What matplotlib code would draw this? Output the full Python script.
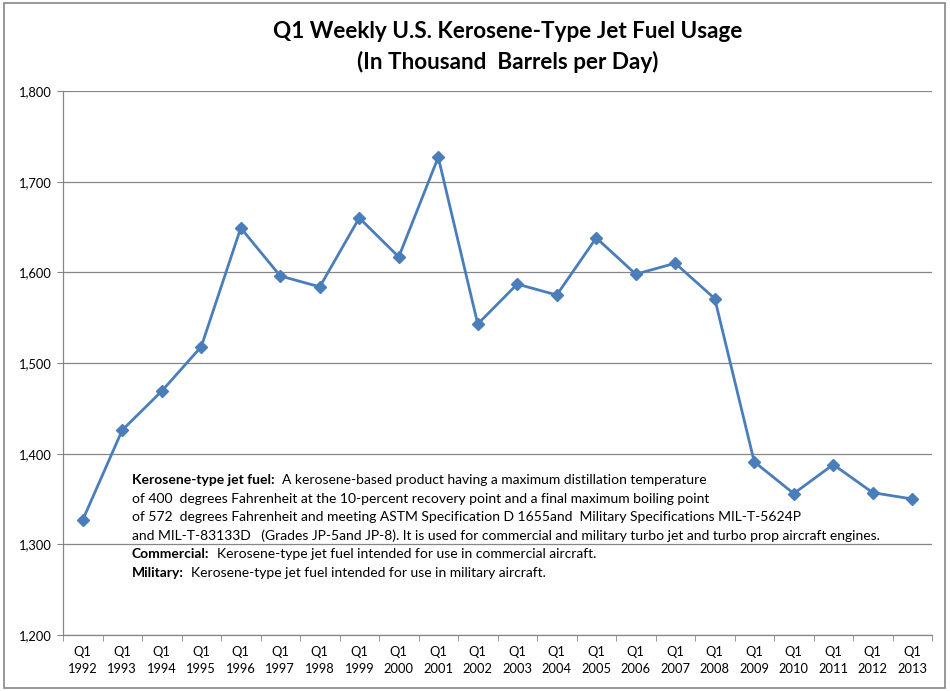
import matplotlib.pyplot as plt
from matplotlib.patches import Rectangle
from matplotlib.ticker import FuncFormatter, MultipleLocator

plt.rcParams['font.family'] = ['Lato', 'DejaVu Sans']

# Q1 weekly U.S. kerosene-type jet fuel usage (thousand barrels per day)
years = list(range(1992, 2014))
usage = [1327, 1426, 1469, 1518, 1649, 1596, 1584, 1660, 1617, 1727, 1543,
         1587, 1575, 1638, 1598, 1610, 1571, 1391, 1356, 1388, 1357, 1350]
labels = [f"Q1\n{y}" for y in years]

note_lines = [
    ("Kerosene-type jet fuel:", "  A kerosene-based product having a maximum distillation temperature"),
    ("", "of 400  degrees Fahrenheit at the 10-percent recovery point and a final maximum boiling point"),
    ("", "of 572  degrees Fahrenheit and meeting ASTM Specification D 1655and  Military Specifications MIL-T-5624P"),
    ("", "and MIL-T-83133D   (Grades JP-5and JP-8). It is used for commercial and military turbo jet and turbo prop aircraft engines."),
    ("Commercial:", "  Kerosene-type jet fuel intended for use in commercial aircraft."),
    ("Military:", "  Kerosene-type jet fuel intended for use in military aircraft."),
]

grey = "#868686"
blue = "#4A7EBB"

fig = plt.figure(figsize=(9.5, 6.91), dpi=100)
fig.patches.append(Rectangle((4 / 950, 3 / 691), 941 / 950, 685 / 691,
                             transform=fig.transFigure, fill=False,
                             edgecolor=grey, linewidth=1.2))
ax = fig.add_axes([63 / 950, 1 - 635 / 691, 869 / 950, 544 / 691])

x = list(range(len(years)))
ax.plot(x, usage, color=blue, linewidth=2.0, marker="D", markersize=6,
        zorder=3)

ax.set_xlim(-0.5, len(years) - 0.5)
ax.set_ylim(1200, 1800)
ax.yaxis.set_major_locator(MultipleLocator(100))
ax.yaxis.set_major_formatter(FuncFormatter(lambda v, p: f"{int(v):,}"))
ax.grid(axis="y", color=grey, linewidth=0.9)
ax.set_axisbelow(True)

ax.set_xticks(x)
ax.set_xticklabels(labels, fontsize=9.3, linespacing=1.45)
ax.set_xticks([i - 0.5 for i in range(len(years) + 1)], minor=True)
ax.tick_params(axis="x", which="major", length=0, pad=8)
ax.tick_params(axis="x", which="minor", length=4, color=grey, direction="out")
ax.tick_params(axis="y", length=4, color=grey, labelsize=9.3, pad=4)

for s in ["top", "right"]:
    ax.spines[s].set_visible(False)
for s in ["left", "bottom"]:
    ax.spines[s].set_color(grey)
    ax.spines[s].set_linewidth(0.9)

fig.text(0.534, 1 - 32 / 691, "Q1 Weekly U.S. Kerosene-Type Jet Fuel Usage",
         ha="center", va="center", fontsize=16.2, fontweight="bold")
fig.text(0.534, 1 - 62 / 691, "(In Thousand  Barrels per Day)",
         ha="center", va="center", fontsize=16.2, fontweight="bold")

# definitions block inside the plot
y0 = 480
for i, (bold, rest) in enumerate(note_lines):
    ypix = y0 + i * 18.6
    t = fig.text(132 / 950, 1 - ypix / 691, bold if bold else " ",
                 fontsize=10, fontweight="bold", ha="left", va="center")
    if not bold:
        fig.text(132 / 950, 1 - ypix / 691, rest.lstrip(), fontsize=10,
                 ha="left", va="center")
    else:
        ax.annotate(rest, xy=(1, 0.5), xycoords=t, fontsize=10,
                    ha="left", va="center")

fig.savefig("out.png", dpi=100)
